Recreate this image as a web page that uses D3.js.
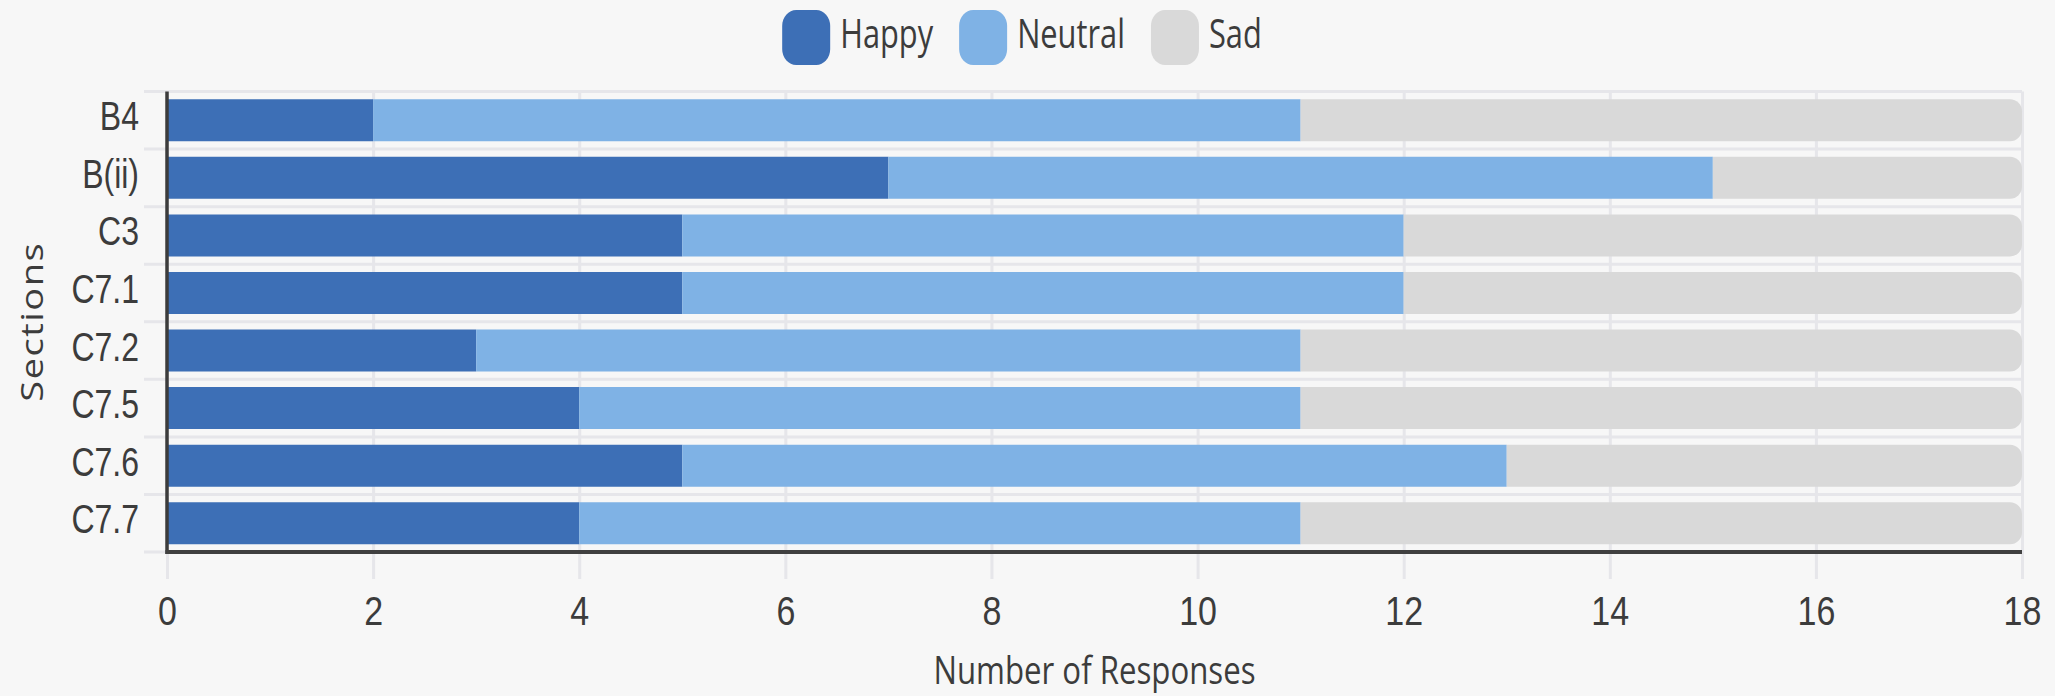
<!DOCTYPE html>
<html>
<head>
<meta charset="utf-8">
<script src="https://cdn.jsdelivr.net/npm/d3@7"></script>
<style>
  html, body { margin: 0; padding: 0; background: #f7f7f7; }
  svg { display: block; font-family: 'Open Sans', 'Noto Sans', sans-serif; }
</style>
</head>
<body>
<svg id="chart"></svg>
<script>
var sections = ['B4', 'B(ii)', 'C3', 'C7.1', 'C7.2', 'C7.5', 'C7.6', 'C7.7'];
var happy = [2, 7, 5, 5, 3, 4, 5, 4];
var neutral = [9, 8, 7, 7, 8, 7, 8, 7];
var sad = [7, 3, 6, 6, 7, 7, 5, 7];
var seriesNames = ['Happy', 'Neutral', 'Sad'];
var seriesColors = ['#3d6fb6', '#7fb2e5', '#d9d9d9'];
var xTicks = [0, 2, 4, 6, 8, 10, 12, 14, 16, 18];

(function() {
  var WIDTH = 2055;
  var HEIGHT = 696;
  var left = 167, right = 2022, top = 91.5, bottom = 552;
  var squeeze = 0.8; // the reference text is narrow
  var textColor = '#3c3c3c';

  var svg = d3.select('#chart')
    .attr('width', WIDTH)
    .attr('height', HEIGHT);

  svg.append('rect')
    .attr('width', WIDTH)
    .attr('height', HEIGHT)
    .attr('fill', '#f7f7f7');

  var x = d3.scaleLinear().domain([0, 18]).range([left, right]);
  var y = d3.scaleBand().domain(sections).range([top, bottom])
    .paddingInner(0.27).paddingOuter(0.135);

  var rows = sections.map(function(s, i) {
    return { section: s, Happy: happy[i], Neutral: neutral[i], Sad: sad[i] };
  });
  var stacked = d3.stack().keys(seriesNames)(rows);

  // vertical grid + x tick labels
  var xAxis = svg.append('g')
    .attr('transform', 'translate(0,' + top + ')')
    .call(d3.axisBottom(x).tickValues(xTicks).tickSize(579 - top).tickPadding(18));
  xAxis.select('.domain').remove();
  xAxis.selectAll('line').attr('stroke', '#e6e6ea').attr('stroke-width', 3);
  xAxis.selectAll('text')
    .attr('fill', textColor)
    .style('font-size', '40px')
    .attr('transform', 'scale(0.85,1)');

  // horizontal grid at band boundaries
  var step = y.step();
  var bounds = d3.range(sections.length + 1).map(function(i) { return top + i * step; });
  svg.append('g').selectAll('line')
    .data(bounds)
    .enter().append('line')
    .attr('x1', 144).attr('x2', right)
    .attr('y1', function(d) { return d; })
    .attr('y2', function(d) { return d; })
    .attr('stroke', '#e6e6ea')
    .attr('stroke-width', 3);

  // bars
  var r = 12;
  function seg(d, isLast) {
    var x0 = x(d[0]), x1 = x(d[1]), y0 = y(d.data.section), h = y.bandwidth();
    if (!isLast) return 'M' + x0 + ',' + y0 + 'H' + x1 + 'V' + (y0 + h) + 'H' + x0 + 'Z';
    return 'M' + x0 + ',' + y0 + 'H' + (x1 - r) +
      'A' + r + ',' + r + ' 0 0 1 ' + x1 + ',' + (y0 + r) +
      'V' + (y0 + h - r) +
      'A' + r + ',' + r + ' 0 0 1 ' + (x1 - r) + ',' + (y0 + h) +
      'H' + x0 + 'Z';
  }
  svg.append('g').selectAll('g')
    .data(stacked)
    .enter().append('g')
    .attr('fill', function(d, i) { return seriesColors[i]; })
    .each(function(s, i) {
      d3.select(this).selectAll('path')
        .data(s)
        .enter().append('path')
        .attr('d', function(d) { return seg(d, i === seriesNames.length - 1); });
    });

  // y labels
  var yAxis = svg.append('g')
    .attr('transform', 'translate(' + left + ',0)')
    .call(d3.axisLeft(y).tickSize(0));
  yAxis.select('.domain').remove();
  yAxis.selectAll('text')
    .attr('x', 0)
    .attr('dy', '0.25em')
    .attr('fill', textColor)
    .style('font-size', '40px')
    .attr('transform', 'translate(-28,0) scale(' + squeeze + ',1)');

  // axis lines
  svg.append('line')
    .attr('x1', left).attr('x2', left)
    .attr('y1', top).attr('y2', bottom + 2)
    .attr('stroke', '#3c3c3c').attr('stroke-width', 3.5);
  svg.append('line')
    .attr('x1', left - 1.5).attr('x2', right)
    .attr('y1', bottom).attr('y2', bottom)
    .attr('stroke', '#404040').attr('stroke-width', 4);

  // axis titles
  svg.append('text')
    .attr('transform', 'translate(' + ((left + right) / 2) + ',684) scale(' + squeeze + ',1)')
    .attr('text-anchor', 'middle')
    .attr('fill', textColor)
    .style('font-size', '39px')
    .text('Number of Responses');

  svg.append('text')
    .attr('transform', 'translate(43,' + ((top + bottom) / 2) + ') scale(' + squeeze + ',1) rotate(-90)')
    .attr('text-anchor', 'middle')
    .attr('fill', textColor)
    .style('font-size', '38px')
    .style('letter-spacing', '1.5px')
    .text('Sections');

  // legend
  var legendSqueeze = 0.77;
  var legend = svg.append('g');
  var items = legend.selectAll('g')
    .data(seriesNames)
    .enter().append('g');
  items.append('rect')
    .attr('width', 48).attr('height', 55)
    .attr('y', 10)
    .attr('rx', 14).attr('ry', 16)
    .attr('fill', function(d, i) { return seriesColors[i]; });
  items.append('text')
    .attr('fill', textColor)
    .style('font-size', '40px')
    .text(function(d) { return d; });

  var gap = 26;
  var cursor = 0;
  items.each(function() {
    var g = d3.select(this);
    var w = g.select('text').node().getComputedTextLength() * legendSqueeze;
    g.attr('transform', 'translate(' + cursor + ',0)');
    g.select('text').attr('transform', 'translate(58,48) scale(' + legendSqueeze + ',1)');
    cursor += 58 + w + gap;
  });
  var total = cursor - gap;
  legend.attr('transform', 'translate(' + (1022 - total / 2) + ',0)');
})();
</script>
</body>
</html>
